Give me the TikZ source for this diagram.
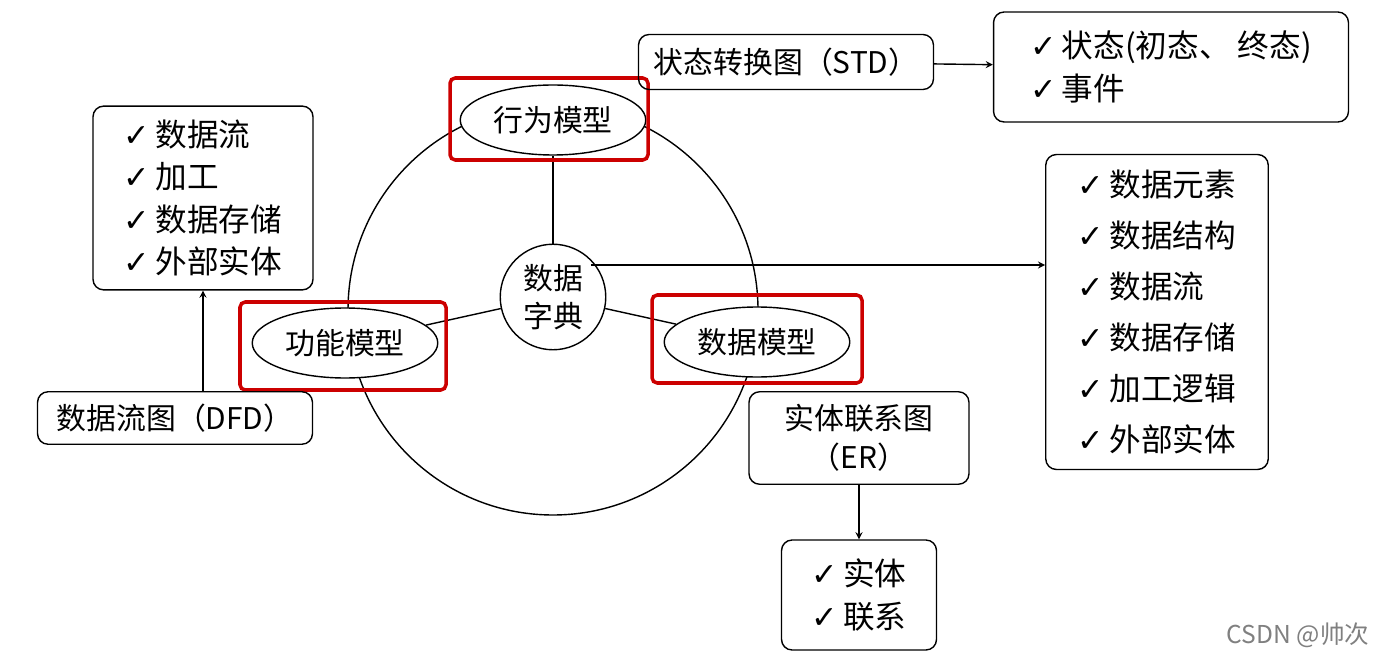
\documentclass[tikz,border=0pt]{standalone}
\usepackage{fontspec}
\setmainfont{Noto Sans CJK SC}
\newfontfamily\symfont{DejaVu Sans}
\usetikzlibrary{shapes.geometric}
\newcommand{\ck}{{\symfont ✓}\,}
\tikzset{
  box/.style={draw, rounded corners=6pt, thick, font=\fontsize{17}{22}\selectfont},
  listbox/.style={box, align=left, inner sep=8pt, font=\fontsize{18}{24}\selectfont},
  model/.style={draw, thick, ellipse, minimum width=3.5cm, minimum height=1.4cm, font=\fontsize{17}{20}\selectfont},
  hilite/.style={draw=red!80!black, line width=2pt, rounded corners=3pt},
}
\begin{document}
\begin{tikzpicture}[x=0.02cm, y=-0.02cm]
\useasboundingbox (0,0) rectangle (1378,658);

% wheel
\draw[thick] (553,310) circle (205*0.02cm);
\node[draw, thick, circle, fill=white, minimum size=2.1cm, align=center, font=\fontsize{17}{22}\selectfont] (dict) at (553,297) {数据\\字典};
\node[model, fill=white] (behav) at (553,120) {行为模型};
\node[model, fill=white] (func) at (345,343) {功能模型};
\node[model, fill=white] (data) at (757,342) {数据模型};
\draw[thick] (dict) -- (behav);
\draw[thick] (dict) -- (func);
\draw[thick] (dict) -- (data);
\draw[hilite] (450,78) rectangle (648,160);
\draw[hilite] (240,302) rectangle (446,390);
\draw[hilite] (652,295) rectangle (862,383);

% behaviour side
\node[box, minimum width=5.9cm, minimum height=1.1cm] (std) at (786,62) {状态转换图（STD）};
\node[listbox, minimum width=7.1cm, minimum height=2.2cm] (stdl) at (1171,67) {\ck 状态(初态、 终态)\\ \ck 事件};
\draw[thick, ->, >=stealth] (std) -- (stdl);

% function side
\node[listbox, minimum width=4.4cm, minimum height=3.45cm] (dfdl) at (203,198) {\ck 数据流\\ \ck 加工\\ \ck 数据存储\\ \ck 外部实体};
\node[box, minimum width=5.5cm, minimum height=1.05cm] (dfd) at (175,418) {数据流图（DFD）};
\draw[thick, ->, >=stealth] (dfd.north -| dfdl) -- (dfdl);

% dictionary
\node[listbox, minimum width=4.45cm, minimum height=6.3cm, font=\fontsize{18}{29}\selectfont] (dictl) at (1157,312) {\ck 数据元素\\ \ck 数据结构\\ \ck 数据流\\ \ck 数据存储\\ \ck 加工逻辑\\ \ck 外部实体};
\draw[thick, ->, >=stealth] (dict.north east |- 0,265) -- (dictl.west |- 0,265);

% data side
\node[box, align=center, minimum width=4.4cm, minimum height=1.85cm] (er) at (859,438) {实体联系图\\（ER）};
\node[listbox, minimum width=3.1cm, minimum height=2.2cm] (erl) at (859,595) {\ck 实体\\ \ck 联系};
\draw[thick, ->, >=stealth] (er) -- (erl);

\node[text=gray, font=\fontsize{14}{16}\selectfont] (wm) at (1298,635) {CSDN @帅次};
\end{tikzpicture}
\end{document}
